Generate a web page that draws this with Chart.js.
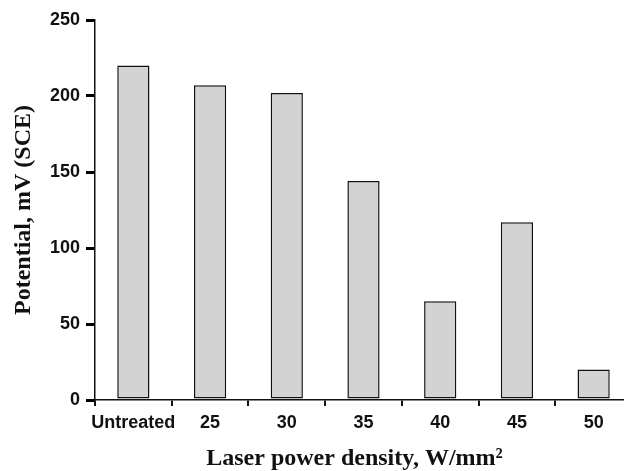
<!DOCTYPE html>
<html>
<head>
<meta charset="utf-8">
<script src="https://cdn.jsdelivr.net/npm/chart.js@4/dist/chart.umd.min.js"></script>
<style>
    body { margin: 0; overflow: hidden; background: #fff; }
    #ctx_potential { display: block; }
</style>
</head>
<body>
<canvas id="ctx_potential" width="640" height="471"></canvas>
<script>
const categories = ['Untreated', '25', '30', '35', '40', '45', '50'];
const potential = [220, 207, 202, 144, 65, 117, 20];
const yMin = 0;
const yMax = 250;
const yStep = 50;

const ctx_potential = document.getElementById('ctx_potential');

new Chart(ctx_potential, {
    type: 'bar',
    data: {
        labels: categories,
        datasets: [{
            label: 'Potential',
            data: potential,
            backgroundColor: '#d3d3d3',
            borderColor: '#111',
            borderWidth: 1.5,
            borderSkipped: false,
            barPercentage: 0.42,
            categoryPercentage: 1
        }]
    },
    options: {
        responsive: false,
        animation: false,
        layout: {
            padding: { top: 20, right: 8, bottom: 0, left: 0 }
        },
        scales: {
            x: {
                offset: true,
                afterFit: (scale) => { scale.height = 71; },
                border: { display: true, color: '#111', width: 1.5 },
                grid: {
                    display: true,
                    offset: true,
                    drawOnChartArea: false,
                    drawTicks: true,
                    tickLength: 6,
                    tickColor: '#111',
                    tickWidth: 2,
                    color: '#111',
                    lineWidth: 2
                },
                ticks: {
                    autoSkip: false,
                    color: '#111',
                    padding: 6,
                    maxRotation: 0,
                    font: { family: 'Liberation Sans', size: 18, weight: 'bold' }
                },
                title: {
                    display: true,
                    text: 'Laser power density, W/mm\u00b2   ',
                    color: '#111',
                    padding: { top: 0, bottom: 0 },
                    font: { family: 'Liberation Serif', size: 24, weight: 'bold', lineHeight: 1 }
                }
            },
            y: {
                min: yMin,
                max: yMax,
                afterFit: (scale) => { scale.width = 95; },
                border: { display: true, color: '#111', width: 1.5 },
                grid: {
                    display: true,
                    drawOnChartArea: false,
                    drawTicks: true,
                    tickLength: 9,
                    tickColor: '#000',
                    tickWidth: 3,
                    color: '#000',
                    lineWidth: 3
                },
                ticks: {
                    stepSize: yStep,
                    color: '#111',
                    padding: 6,
                    font: { family: 'Liberation Sans', size: 18, weight: 'bold' }
                },
                title: {
                    display: true,
                    text: 'Potential, mV (SCE)',
                    color: '#111',
                    padding: { top: 12, bottom: 0 },
                    font: { family: 'Liberation Serif', size: 24, weight: 'bold', lineHeight: 1 }
                }
            }
        },
        plugins: {
            legend: { display: false },
            tooltip: { enabled: false }
        }
    }
});
</script>
</body>
</html>
